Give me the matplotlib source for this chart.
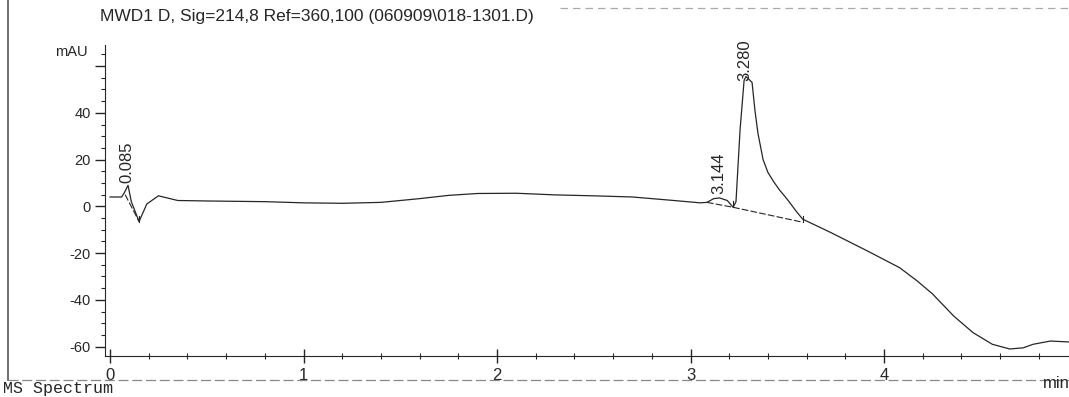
import matplotlib.pyplot as plt
from matplotlib.ticker import MultipleLocator, FuncFormatter

# retention time (min) and detector signal (mAU)
time = [0.0, 0.06, 0.075, 0.093, 0.11, 0.15, 0.19, 0.25, 0.3, 0.35, 0.5, 0.8,
        1.0, 1.2, 1.4, 1.6, 1.75, 1.9, 2.1, 2.3, 2.5, 2.7, 2.9, 3.05, 3.085,
        3.12, 3.15, 3.19, 3.22, 3.235, 3.256, 3.277, 3.287, 3.318, 3.333,
        3.349, 3.375, 3.40, 3.43, 3.46, 3.5, 3.55, 3.58, 3.72, 3.91, 4.08,
        4.17, 4.25, 4.36, 4.46, 4.56, 4.65, 4.72, 4.77, 4.86, 4.956]
signal = [4.0, 4.0, 6.0, 9.0, 2.0, -6.5, 1.0, 4.5, 3.5, 2.5, 2.3, 2.0,
          1.5, 1.3, 1.7, 3.3, 4.7, 5.5, 5.6, 4.9, 4.5, 4.0, 2.6, 1.5, 1.7,
          3.3, 3.6, 2.5, -0.4, 2.0, 32.7, 54.0, 55.5, 53.0, 41.0,
          31.0, 20.0, 14.5, 10.5, 7.0, 3.0, -2.5, -5.5, -11.0, -18.9, -26.2,
          -31.8, -37.4, -46.9, -54.0, -59.0, -61.0, -60.5, -59.0, -57.6, -58.0]

# integration baselines (start, end) and peak labels
baselines = [((0.078, 5.0), (0.15, -6.5)),
             ((3.085, 1.7), (3.22, -0.4)),
             ((3.22, -0.4), (3.58, -6.8))]
peak_rt = [0.085, 3.144, 3.280]
peak_top = [9.0, 3.6, 55.5]
label_offset = [2, 3, -3]

ink = '#262626'
plt.rcParams['font.family'] = ['Liberation Sans', 'DejaVu Sans']

fig = plt.figure(figsize=(10.69, 3.97), dpi=100)
ax = fig.add_axes([105 / 1069, 41 / 397, 964 / 1069, 311 / 397])
ax.plot(time, signal, color=ink, lw=0.9)

for (x0, y0), (x1, y1) in baselines:
    ax.plot([x0, x1], [y0, y1], color=ink, lw=0.8, dashes=(6, 2))
    ax.plot([x1, x1], [y1, y1 + 2.5], color=ink, lw=0.8)

for rt, top, off in zip(peak_rt, peak_top, label_offset):
    ax.annotate(f'{rt:.3f}', (rt, top), xytext=(0, off), textcoords='offset points',
                rotation=90, ha='center', va='bottom', fontsize=12, color=ink)

ax.set_xlim(-0.026, 4.956)
ax.set_ylim(-64, 69)
ax.spines['top'].set_visible(False)
ax.spines['right'].set_visible(False)
ax.spines['left'].set_color(ink)
ax.spines['bottom'].set_color(ink)

ax.xaxis.set_major_locator(MultipleLocator(1))
ax.xaxis.set_minor_locator(MultipleLocator(0.2))
ax.yaxis.set_major_locator(MultipleLocator(20))
ax.yaxis.set_minor_locator(MultipleLocator(5))
ax.yaxis.set_major_formatter(FuncFormatter(lambda v, p: f'{v:.0f}' if v <= 40 else ''))
ax.tick_params(axis='x', which='major', direction='inout', length=10, width=1,
               labelsize=12, pad=4, colors=ink)
ax.tick_params(axis='x', which='minor', direction='inout', length=5, width=0.8, colors=ink)
ax.tick_params(axis='y', which='major', direction='out', length=7, width=1,
               labelsize=10.5, pad=3, colors=ink)
ax.tick_params(axis='y', which='minor', direction='out', length=3, width=0.8, colors=ink)

fig.text(100 / 1069, 1 - 17 / 397, r'MWD1 D, Sig=214,8 Ref=360,100 (060909\018-1301.D)',
         ha='left', va='center', fontsize=12.5, color=ink)
fig.text(88 / 1069, 1 - 52 / 397, 'mAU', ha='right', va='center', fontsize=10.5, color=ink)
fig.text(1043 / 1069, 1 - 384 / 397, 'min', ha='left', va='center', fontsize=12, color=ink)
fig.text(3 / 1069, 1 - 389 / 397, 'MS Spectrum', ha='left', va='center',
         family='Liberation Mono', fontsize=12, color=ink)

# frame lines around the report page
fig.add_artist(plt.Line2D([8 / 1069, 8 / 1069], [1 - 380 / 397, 1.0],
                          color='#555555', lw=1.2, transform=fig.transFigure))
fig.add_artist(plt.Line2D([8 / 1069, 1.0], [1 - 380 / 397, 1 - 380 / 397],
                          color='#888888', lw=0.9, dashes=(8, 3), transform=fig.transFigure))
fig.add_artist(plt.Line2D([560 / 1069, 1.0], [1 - 8 / 397, 1 - 8 / 397],
                          color='#aaaaaa', lw=0.9, dashes=(6, 4), transform=fig.transFigure))

fig.savefig('out.png', dpi=100)
